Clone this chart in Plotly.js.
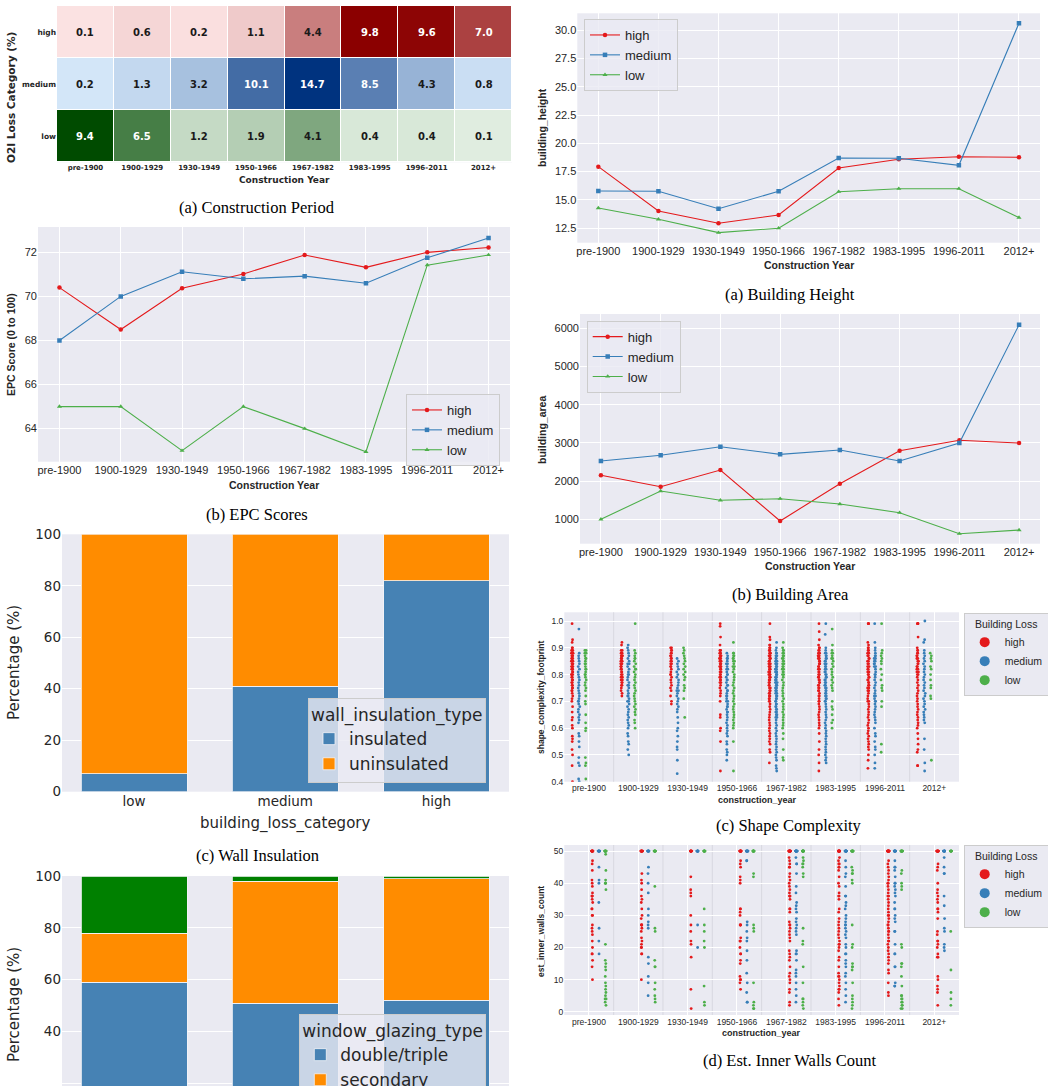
<!DOCTYPE html>
<html><head><meta charset="utf-8">
<script src="https://cdn.plot.ly/plotly-3.0.1.min.js"></script>
<style>html,body{margin:0;padding:0;background:#fff;} #chart{width:1048px;height:1086px;}</style>
</head><body><div id="chart"></div>
<script>
const W = 1048, H = 1086;
const years = ['pre-1900','1900-1929','1930-1949','1950-1966','1967-1982','1983-1995','1996-2011','2012+'];
const lossLevels = ['high','medium','low'];
const heatRowOrder = ['low','medium','high'];

// (a) Construction period heatmap (%)
const heatHigh   = [0.1, 0.6, 0.2, 1.1, 4.4, 9.8, 9.6, 7.0];
const heatMedium = [0.2, 1.3, 3.2, 10.1, 14.7, 8.5, 4.3, 0.8];
const heatLow    = [9.4, 6.5, 1.2, 1.9, 4.1, 0.4, 0.4, 0.1];

// (b) EPC scores
const epcHigh   = [70.4, 68.5, 70.37, 71.02, 71.88, 71.32, 72.0, 72.22];
const epcMedium = [68.0, 70.0, 71.12, 70.8, 70.92, 70.6, 71.75, 72.65];
const epcLow    = [65.0, 65.0, 63.0, 65.0, 64.0, 62.95, 71.42, 71.88];

// Building height
const heightHigh   = [17.93, 14.0, 12.92, 13.65, 17.81, 18.58, 18.81, 18.76];
const heightMedium = [15.78, 15.75, 14.21, 15.75, 18.70, 18.67, 18.05, 30.62];
const heightLow    = [14.27, 13.27, 12.09, 12.48, 15.71, 15.98, 15.98, 13.42];

// Building area
const areaHigh   = [2152, 1853, 2290, 955, 1932, 2796, 3068, 2997];
const areaMedium = [2526, 2675, 2900, 2700, 2814, 2526, 2997, 6094];
const areaLow    = [1000, 1740, 1497, 1539, 1400, 1173, 623, 719];

// Wall insulation / window glazing (%)
const barCats = ['low','medium','high'];
const wallInsulated   = [7, 41, 82];
const wallUninsulated = [93, 59, 18];
const glazeDouble    = [59, 51, 52];
const glazeSecondary = [19, 47, 47];
const glazeSingle    = [22, 2, 1];

// Shape complexity footprint (per construction period)
const scHigh = [
 [0.99,0.93,0.92,0.90,0.90,0.89,0.89,0.89,0.88,0.88,0.88,0.87,0.87,0.87,0.86,0.86,0.86,0.85,0.85,0.85,0.84,0.84,0.84,0.83,0.83,0.83,0.82,0.82,0.82,0.81,0.81,0.80,0.80,0.80,0.79,0.79,0.78,0.78,0.77,0.77,0.76,0.76,0.75,0.75,0.74,0.74,0.73,0.72,0.71,0.70,0.68,0.66,0.64,0.63,0.61,0.60,0.57,0.56,0.55,0.52,0.50,0.46,0.40],
 [0.92,0.91,0.89,0.89,0.88,0.88,0.88,0.87,0.87,0.87,0.86,0.86,0.86,0.85,0.85,0.85,0.84,0.84,0.84,0.83,0.83,0.83,0.82,0.82,0.81,0.81,0.80,0.80,0.79,0.79,0.78,0.78,0.77,0.77,0.76,0.76,0.75,0.74,0.73,0.72],
 [0.90,0.90,0.89,0.89,0.88,0.88,0.87,0.87,0.86,0.86,0.85,0.85,0.84,0.84,0.83,0.83,0.82,0.81,0.80,0.80,0.79,0.78,0.77,0.76,0.75,0.74,0.72,0.70,0.69],
 [0.99,0.98,0.94,0.91,0.89,0.89,0.89,0.88,0.88,0.88,0.87,0.87,0.87,0.86,0.86,0.86,0.85,0.85,0.85,0.84,0.84,0.84,0.83,0.83,0.83,0.82,0.82,0.81,0.81,0.80,0.80,0.79,0.79,0.78,0.78,0.77,0.77,0.76,0.75,0.74,0.73,0.72,0.70,0.65,0.64,0.60,0.59,0.55,0.44],
 [0.99,0.94,0.93,0.91,0.91,0.90,0.90,0.89,0.89,0.89,0.88,0.88,0.88,0.87,0.87,0.87,0.86,0.86,0.86,0.85,0.85,0.85,0.84,0.84,0.84,0.83,0.83,0.83,0.82,0.82,0.82,0.81,0.81,0.81,0.80,0.80,0.80,0.79,0.79,0.79,0.78,0.78,0.78,0.77,0.77,0.76,0.76,0.75,0.75,0.74,0.74,0.73,0.73,0.72,0.72,0.71,0.71,0.70,0.70,0.69,0.68,0.67,0.66,0.65,0.64,0.63,0.62,0.61,0.60,0.59,0.58,0.57,0.56,0.55,0.54,0.52,0.51,0.47],
 [0.99,0.96,0.93,0.91,0.90,0.90,0.89,0.89,0.88,0.88,0.88,0.87,0.87,0.87,0.86,0.86,0.86,0.85,0.85,0.84,0.84,0.84,0.83,0.83,0.82,0.82,0.81,0.81,0.80,0.80,0.79,0.79,0.78,0.78,0.77,0.77,0.76,0.76,0.75,0.75,0.74,0.74,0.73,0.72,0.72,0.71,0.70,0.70,0.69,0.68,0.67,0.66,0.65,0.64,0.63,0.62,0.61,0.60,0.58,0.55,0.52,0.50,0.47,0.44],
 [0.99,0.99,0.99,0.92,0.91,0.90,0.90,0.89,0.89,0.88,0.88,0.88,0.87,0.87,0.86,0.86,0.85,0.85,0.84,0.84,0.83,0.83,0.82,0.82,0.81,0.81,0.80,0.80,0.79,0.79,0.78,0.78,0.77,0.77,0.76,0.76,0.75,0.75,0.74,0.74,0.73,0.72,0.71,0.70,0.70,0.69,0.68,0.67,0.66,0.65,0.64,0.63,0.62,0.61,0.60,0.59,0.58,0.57,0.56,0.55,0.54,0.53,0.52,0.50,0.48,0.45],
 [0.99,0.99,0.99,0.99,0.94,0.90,0.89,0.89,0.88,0.88,0.87,0.87,0.86,0.86,0.85,0.85,0.84,0.84,0.83,0.83,0.82,0.82,0.81,0.81,0.80,0.80,0.79,0.78,0.77,0.76,0.75,0.74,0.73,0.72,0.71,0.70,0.69,0.68,0.67,0.66,0.65,0.64,0.63,0.62,0.61,0.60,0.58,0.56,0.54,0.52,0.51,0.46,0.46]
];
const scMedium = [
 [0.97,0.88,0.87,0.86,0.85,0.84,0.83,0.82,0.81,0.80,0.79,0.78,0.77,0.76,0.75,0.74,0.73,0.72,0.71,0.70,0.70,0.69,0.68,0.67,0.66,0.65,0.64,0.63,0.62,0.58,0.57,0.55,0.53,0.49,0.47,0.46,0.41,0.40],
 [0.91,0.90,0.89,0.88,0.87,0.86,0.85,0.84,0.84,0.83,0.82,0.81,0.80,0.80,0.79,0.78,0.77,0.76,0.76,0.75,0.74,0.73,0.72,0.72,0.71,0.70,0.70,0.69,0.68,0.67,0.66,0.65,0.64,0.63,0.62,0.61,0.60,0.58,0.57,0.55,0.54,0.52,0.50],
 [0.86,0.85,0.84,0.83,0.82,0.81,0.80,0.79,0.78,0.77,0.76,0.75,0.74,0.74,0.73,0.72,0.71,0.70,0.69,0.68,0.67,0.66,0.64,0.62,0.60,0.59,0.57,0.55,0.53,0.52,0.48,0.43],
 [0.88,0.87,0.86,0.86,0.85,0.84,0.84,0.83,0.82,0.82,0.81,0.80,0.80,0.79,0.78,0.78,0.77,0.76,0.76,0.75,0.74,0.74,0.73,0.72,0.72,0.71,0.70,0.70,0.69,0.68,0.68,0.67,0.66,0.66,0.65,0.64,0.63,0.62,0.61,0.60,0.59,0.58,0.57,0.55,0.54,0.52,0.51,0.50,0.48],
 [0.92,0.90,0.89,0.88,0.88,0.87,0.87,0.86,0.86,0.85,0.85,0.85,0.84,0.84,0.84,0.83,0.83,0.83,0.82,0.82,0.82,0.81,0.81,0.81,0.80,0.80,0.80,0.79,0.79,0.79,0.78,0.78,0.78,0.77,0.77,0.77,0.76,0.76,0.76,0.75,0.75,0.75,0.74,0.74,0.74,0.73,0.73,0.72,0.72,0.71,0.71,0.70,0.70,0.69,0.69,0.68,0.68,0.67,0.67,0.66,0.66,0.65,0.65,0.64,0.64,0.63,0.62,0.61,0.60,0.59,0.58,0.57,0.56,0.55,0.54,0.53,0.52,0.51,0.50,0.49,0.48,0.46,0.45,0.44],
 [0.99,0.95,0.90,0.89,0.88,0.88,0.87,0.87,0.86,0.86,0.85,0.85,0.84,0.84,0.83,0.83,0.82,0.82,0.81,0.81,0.80,0.80,0.79,0.79,0.78,0.78,0.77,0.77,0.76,0.76,0.75,0.75,0.74,0.74,0.73,0.73,0.72,0.72,0.71,0.71,0.70,0.70,0.69,0.68,0.67,0.66,0.65,0.64,0.63,0.62,0.61,0.60,0.59,0.58,0.57,0.56,0.55,0.54,0.53,0.52,0.51,0.50,0.49,0.48,0.47],
 [0.99,0.92,0.90,0.89,0.88,0.87,0.87,0.86,0.86,0.85,0.85,0.84,0.84,0.83,0.83,0.82,0.81,0.80,0.80,0.79,0.78,0.77,0.76,0.75,0.74,0.73,0.72,0.72,0.71,0.70,0.70,0.69,0.68,0.67,0.66,0.65,0.64,0.63,0.62,0.60,0.58,0.57,0.55,0.53,0.52,0.50,0.47,0.45],
 [1.00,0.93,0.92,0.89,0.88,0.87,0.86,0.85,0.84,0.83,0.82,0.81,0.80,0.79,0.78,0.77,0.76,0.75,0.74,0.73,0.72,0.71,0.70,0.69,0.68,0.67,0.66,0.65,0.64,0.63,0.62,0.56,0.52,0.47,0.44]
];
const scLow = [
 [0.89,0.89,0.88,0.88,0.87,0.86,0.86,0.85,0.84,0.84,0.83,0.82,0.82,0.81,0.80,0.80,0.79,0.78,0.77,0.76,0.75,0.74,0.72,0.70,0.69,0.65,0.62,0.60,0.59,0.49,0.47,0.46,0.41],
 [0.99,0.89,0.88,0.87,0.86,0.86,0.85,0.84,0.83,0.82,0.82,0.81,0.80,0.79,0.78,0.77,0.76,0.75,0.74,0.73,0.72,0.71,0.70,0.69,0.68,0.67,0.66,0.65,0.63,0.62,0.60],
 [0.90,0.89,0.88,0.87,0.86,0.85,0.84,0.83,0.82,0.81,0.80,0.79,0.78,0.76,0.75,0.74,0.71,0.64],
 [0.92,0.88,0.88,0.87,0.87,0.86,0.86,0.85,0.85,0.84,0.83,0.83,0.82,0.81,0.80,0.79,0.78,0.77,0.76,0.75,0.74,0.73,0.72,0.71,0.70,0.69,0.68,0.67,0.66,0.65,0.64,0.63,0.62,0.61,0.60,0.55,0.44],
 [0.92,0.90,0.89,0.89,0.88,0.88,0.87,0.87,0.86,0.86,0.85,0.85,0.84,0.84,0.83,0.83,0.82,0.82,0.81,0.81,0.80,0.80,0.79,0.78,0.77,0.76,0.75,0.74,0.73,0.72,0.71,0.70,0.69,0.68,0.67,0.66,0.65,0.64,0.63,0.62,0.61,0.60,0.58,0.56,0.52,0.49,0.48],
 [0.97,0.91,0.89,0.88,0.88,0.87,0.86,0.86,0.85,0.84,0.83,0.82,0.81,0.80,0.79,0.78,0.77,0.76,0.75,0.74,0.70,0.68,0.67,0.65,0.63,0.62,0.60],
 [0.99,0.89,0.88,0.87,0.86,0.85,0.84,0.82,0.80,0.78,0.76,0.75,0.74,0.70,0.68,0.54,0.51],
 [0.88,0.87,0.86,0.85,0.83,0.82,0.80,0.78,0.76,0.75,0.72,0.71,0.48]
];

// Estimated inner walls count (per construction period)
const iwHigh = [
 [50,50,50,50,50,50,50,50,50,50,50,50,47,46,44,41,40,39,37,36,36,36,35,34,32,32,30,30,27,26,25,24,22,20,18,18,16,14,10],
 [50,50,50,50,50,50,50,50,50,50,50,50,43,41,40,38,36,35,34,32,30,29,27,27,27,26,25,23,22,21,20,20,18,18,10],
 [50,50,50,50,50,50,50,50,50,50,42,38,37,36,30,27,25,22,21,17,7,1],
 [50,50,50,50,50,50,50,50,50,50,50,50,50,50,47,46,45,42,41,40,32,32,31,30,27,27,27,23,22,22,20,18,18,16,15,11,10,10,9,7],
 [50,50,50,50,50,50,50,50,50,50,50,50,50,50,50,50,48,47,46,45,45,43,42,41,40,39,38,37,36,36,36,35,32,32,31,28,27,27,26,25,24,23,22,19,18,17,16,14,12,11,10,9,7,6,3,2],
 [50,50,50,50,50,50,50,50,50,50,50,50,50,50,50,50,48,47,46,46,45,45,44,42,40,39,37,36,36,35,32,31,29,28,27,26,25,24,23,22,21,21,20,19,17,16,14,12,11,11,10,9,8,7,7,6,4,2],
 [50,50,50,50,50,50,50,50,50,50,50,50,50,50,50,50,47,46,45,44,43,42,41,40,40,39,38,37,36,36,35,34,33,32,31,30,30,29,28,27,27,26,25,25,24,23,22,22,21,20,19,18,17,16,15,13,12,9,6,5],
 [50,50,50,50,50,50,50,50,50,50,50,50,46,45,44,40,38,37,36,35,34,32,32,31,29,25,24,22,22,21,20,18,17,17,11,10,8,7,6,2]
];
const iwMedium = [
 [50,50,50,50,50,50,50,50,50,50,45,41,40,34,26,22,18],
 [50,50,50,50,50,50,50,50,50,50,45,43,40,37,32,30,28,27,26,17,15,11,9,5],
 [50,50,50,50,50,50,50,50,50,50,27,20],
 [50,50,50,50,50,50,50,50,50,50,50,50,47,47,28,27,25,23,22,19,16,12,9,6,3,3],
 [50,50,50,50,50,50,50,50,50,50,50,50,50,50,48,46,46,43,39,37,34,33,32,31,29,28,27,26,25,24,19,18,18,16,13,12,11,9,7,5,3],
 [50,50,50,50,50,50,50,50,50,50,50,50,50,50,47,45,43,42,39,36,36,34,33,32,30,29,28,27,27,26,25,24,23,21,20,18,18,16,15,14,12,11,9,7,5,3],
 [50,50,50,50,50,50,50,50,50,50,50,50,47,45,45,44,42,40,40,39,38,37,36,34,32,32,30,29,28,25,25,21,18,18,14,14,9,8,8],
 [50,50,50,50,50,50,50,50,50,50,48,45,43,43,36,33,29,26,25,21,20,19]
];
const iwLow = [
 [50,50,50,50,50,50,50,50,50,50,49,44,41,40,40,40,38,21,16,15,14,13,11,9,8,7,6,5,4,4,3,2],
 [50,50,50,50,50,50,50,50,50,50,39,26,25,16,14,14,9,7,5,4,3],
 [50,50,50,50,50,50,50,50,50,50,32,27,25,22,20,8,3,2],
 [50,50,50,50,50,50,50,50,50,50,50,50,43,42,27,26,25,9,3,2,1,1],
 [50,50,50,50,50,50,50,50,50,50,50,50,50,50,48,47,46,46,45,43,42,26,22,21,14,9,4,4,3,2,1],
 [50,50,50,50,50,50,50,50,50,50,50,50,45,44,43,43,41,40,27,21,20,15,14,14,13,9,5,4,3,2,1],
 [50,50,50,50,50,50,50,50,50,50,50,50,44,43,40,39,38,21,20,15,15,14,11,8,5,5,4,4,3,3,2,2,1,1],
 [50,50,50,50,50,50,50,50,25,13,6,4,2]
];

// ---------- styling ----------
const COL = {high:'#e41a1c', medium:'#377eb8', low:'#4daf4a'};
const SYM = {high:'circle', medium:'square', low:'triangle-up'};
const TXT = '#262626';
const SANS = 'Liberation Sans, Arial, sans-serif';
const DEJA = 'DejaVu Sans, sans-serif';
const SERIF = 'Liberation Serif, Times New Roman, serif';
const px = x => x / W;
const py = y => 1 - y / H;

const traces = [];

// heatmap rows: each row its own colour scale; other rows left empty (null)
const heatRows = [['high', heatHigh, '#fce4e4', '#8b0000'], ['medium', heatMedium, '#d6e8fa', '#00337f'], ['low', heatLow, '#e2efe2', '#004b00']];
heatRows.forEach(([lvl, vals, c0, c1]) => {
  const z = heatRowOrder.map(r => r === lvl ? vals.slice() : vals.map(() => null));
  traces.push({type:'heatmap', x:years, y:heatRowOrder, z:z, colorscale:[[0,c0],[1,c1]], zmin:0, zmax:Math.max(...vals),
    showscale:false, xgap:1, ygap:1, xaxis:'x', yaxis:'y', hoverinfo:'skip'});
});

function lineTrace(vals, lvl, xa, ya, leg) {
  return {type:'scatter', mode:'lines+markers', x:years, y:vals, name:lvl,
    line:{color:COL[lvl], width:1.1}, marker:{color:COL[lvl], symbol:SYM[lvl], size:4.5},
    xaxis:xa, yaxis:ya, legend:leg, hoverinfo:'skip'};
}
traces.push(lineTrace(epcHigh,'high','x2','y2','legend'));
traces.push(lineTrace(epcMedium,'medium','x2','y2','legend'));
traces.push(lineTrace(epcLow,'low','x2','y2','legend'));
traces.push(lineTrace(heightHigh,'high','x5','y5','legend2'));
traces.push(lineTrace(heightMedium,'medium','x5','y5','legend2'));
traces.push(lineTrace(heightLow,'low','x5','y5','legend2'));
traces.push(lineTrace(areaHigh,'high','x6','y6','legend3'));
traces.push(lineTrace(areaMedium,'medium','x6','y6','legend3'));
traces.push(lineTrace(areaLow,'low','x6','y6','legend3'));

function barTrace(vals, name, color, xa, ya, leg) {
  return {type:'bar', x:barCats, y:vals, name:name, width:0.7,
    marker:{color:color, line:{color:'#f4f4f8', width:0.8}}, xaxis:xa, yaxis:ya, legend:leg, hoverinfo:'skip'};
}
traces.push(barTrace(wallInsulated,'insulated','#4682b4','x3','y3','legend4'));
traces.push(barTrace(wallUninsulated,'uninsulated','#ff8c00','x3','y3','legend4'));
traces.push(barTrace(glazeDouble,'double/triple','#4682b4','x4','y4','legend5'));
traces.push(barTrace(glazeSecondary,'secondary','#ff8c00','x4','y4','legend5'));
traces.push(barTrace(glazeSingle,'single','#008000','x4','y4','legend5'));

function stripTrace(groups, lvl, xa, ya) {
  const xs = [], ys = [];
  groups.forEach((arr, i) => arr.forEach(v => { xs.push(years[i]); ys.push(v); }));
  return {type:'box', x:xs, y:ys, name:lvl, boxpoints:'all', jitter:0.4, pointpos:0,
    fillcolor:'rgba(0,0,0,0)', line:{color:'rgba(0,0,0,0)', width:0}, whiskerwidth:0,
    marker:{color:COL[lvl], size:2.8, line:{width:0}}, showlegend:false, xaxis:xa, yaxis:ya, hoverinfo:'skip'};
}
traces.push(stripTrace(scHigh,'high','x7','y7'));
traces.push(stripTrace(scMedium,'medium','x7','y7'));
traces.push(stripTrace(scLow,'low','x7','y7'));
traces.push(stripTrace(iwHigh,'high','x8','y8'));
traces.push(stripTrace(iwMedium,'medium','x8','y8'));
traces.push(stripTrace(iwLow,'low','x8','y8'));
// legend entries for the strip plots
[['x7','y7','legend6'],['x8','y8','legend7']].forEach(([xa,ya,leg]) => {
  lossLevels.forEach(lvl => traces.push({type:'scatter', mode:'markers', x:[null], y:[null], name:lvl,
    marker:{color:COL[lvl], size:10}, xaxis:xa, yaxis:ya, legend:leg, hoverinfo:'skip'}));
});

// ---------- axes ----------
function catX(domain, anchor, range, font, grid) {
  return {domain:domain, anchor:anchor, type:'category', categoryorder:'array', range:range,
    showgrid:grid, gridcolor:'#ffffff', gridwidth:1, zeroline:false, ticks:'', showline:false,
    tickfont:font, fixedrange:true};
}
function numY(domain, anchor, range, font, extra) {
  return Object.assign({domain:domain, anchor:anchor, range:range, showgrid:true, gridcolor:'#ffffff', gridwidth:1,
    zeroline:false, ticks:'', showline:false, tickfont:font, fixedrange:true}, extra || {});
}
const fLine = {family:SANS, size:11, color:TXT};
const fStrip = {family:SANS, size:8.5, color:TXT};
const fBar = {family:DEJA, size:13.5, color:TXT};

const layout = {
  width:W, height:H, margin:{l:0, r:0, t:0, b:0, autoexpand:false},
  paper_bgcolor:'#ffffff', plot_bgcolor:'#eaeaf2', hovermode:false,
  barmode:'stack', boxmode:'group', boxgap:0.19, boxgroupgap:0.3,
  xaxis: Object.assign(catX([px(57), px(512)], 'y', [-0.5, 7.5], {family:DEJA, size:7, color:TXT, weight:'bold'}, false), {categoryarray:years}),
  yaxis: {domain:[py(162.3), py(6)], anchor:'x', type:'category', categoryorder:'array', categoryarray:heatRowOrder,
    range:[-0.5, 2.5], showgrid:false, zeroline:false, ticks:'', tickfont:{family:DEJA, size:7.5, color:TXT, weight:'bold'}, fixedrange:true},
  xaxis2: Object.assign(catX([px(38), px(510)], 'y2', [-0.35, 7.35], fLine, true), {categoryarray:years}),
  yaxis2: numY([py(461.7), py(227)], 'x2', [62.5, 73.15], fLine, {tickvals:[64,66,68,70,72]}),
  xaxis3: Object.assign(catX([px(62), px(509)], 'y3', [-0.477, 2.48], fBar, false), {categoryarray:barCats}),
  yaxis3: numY([py(791.7), py(534.3)], 'x3', [0, 100], fBar, {tickvals:[0,20,40,60,80,100]}),
  xaxis4: Object.assign(catX([px(62), px(509)], 'y4', [-0.477, 2.48], fBar, false), {categoryarray:barCats, showticklabels:false}),
  yaxis4: numY([0, py(876)], 'x4', [19.0, 100], fBar, {tickvals:[20,40,60,80,100]}),
  xaxis5: Object.assign(catX([px(577.3), px(1040)], 'y5', [-0.35, 7.35], fLine, true), {categoryarray:years}),
  yaxis5: numY([py(242.7), py(13.3)], 'x5', [11.2, 31.5], fLine, {tickvals:[12.5,15,17.5,20,22.5,25,27.5,30], tickformat:'.1f'}),
  xaxis6: Object.assign(catX([px(580), px(1040)], 'y6', [-0.35, 7.35], fLine, true), {categoryarray:years}),
  yaxis6: numY([py(543.7), py(314)], 'x6', [361, 6374], fLine, {tickvals:[1000,2000,3000,4000,5000,6000]}),
  xaxis7: Object.assign(catX([px(564.3), px(959)], 'y7', [-0.5, 7.5], fStrip, true), {categoryarray:years}),
  yaxis7: numY([py(781.7), py(612.3)], 'x7', [0.4, 1.0325], fStrip, {tickvals:[0.4,0.5,0.6,0.7,0.8,0.9,1.0], tickformat:'.1f'}),
  xaxis8: Object.assign(catX([px(564.3), px(959)], 'y8', [-0.5, 7.5], fStrip, true), {categoryarray:years}),
  yaxis8: numY([py(1015), py(845)], 'x8', [-1.0, 51.9], fStrip, {tickvals:[0,10,20,30,40,50]}),
};

// legends
const legBase = {xanchor:'left', yanchor:'top', bgcolor:'rgba(234,234,242,0.8)', bordercolor:'#cccccc', borderwidth:1,
  traceorder:'normal', tracegroupgap:0, itemclick:false, itemdoubleclick:false};
layout.legend  = Object.assign({}, legBase, {x:px(406), y:py(394), font:{family:SANS, size:13, color:TXT}});
layout.legend2 = Object.assign({}, legBase, {x:px(584), y:py(19), font:{family:SANS, size:13, color:TXT}});
layout.legend3 = Object.assign({}, legBase, {x:px(586.7), y:py(320.7), font:{family:SANS, size:13, color:TXT}});
layout.legend4 = Object.assign({}, legBase, {x:px(308), y:py(698), font:{family:DEJA, size:17, color:TXT},
  title:{text:'wall_insulation_type', font:{family:DEJA, size:17, color:TXT}}});
layout.legend5 = Object.assign({}, legBase, {x:px(299.3), y:py(1014), font:{family:DEJA, size:17, color:TXT},
  title:{text:'window_glazing_type', font:{family:DEJA, size:17, color:TXT}}});
layout.legend6 = Object.assign({}, legBase, {x:px(963.7), y:py(613), bgcolor:'#eaeaf2', font:{family:SANS, size:10.5, color:TXT},
  title:{text:'Building Loss', side:'top center', font:{family:SANS, size:10.5, color:TXT}}});
layout.legend7 = Object.assign({}, legBase, {x:px(963.7), y:py(845), bgcolor:'#eaeaf2', font:{family:SANS, size:10.5, color:TXT},
  title:{text:'Building Loss', side:'top center', font:{family:SANS, size:10.5, color:TXT}}});

// shapes: white backing for the heatmap gaps, group separators for strip plots
const shapes = [{type:'rect', xref:'x domain', yref:'y domain', x0:0, x1:1, y0:0, y1:1, fillcolor:'#ffffff', line:{width:0}, layer:'below'}];
['7','8'].forEach(n => {
  for (let i = 0; i < years.length - 1; i++) {
    shapes.push({type:'line', xref:'x'+n, yref:'y'+n+' domain', x0:i+0.5, x1:i+0.5, y0:0, y1:1,
      line:{color:'#d8d8e0', width:1}, layer:'below'});
  }
});
layout.shapes = shapes;

// annotations
const anns = [];
function ann(text, x, y, size, family, opt) {
  anns.push(Object.assign({text:text, xref:'paper', yref:'paper', x:px(x), y:py(y), xanchor:'center', yanchor:'middle',
    showarrow:false, font:{family:family, size:size, color:TXT}}, opt || {}));
}
function annB(text, x, y, size, family, opt) {
  ann('<b>' + text + '</b>', x, y, size, family, opt);
}
// heatmap cell labels
heatRows.forEach(([lvl, vals]) => {
  const mx = Math.max(...vals);
  vals.forEach((v, i) => anns.push({text:'<b>' + v.toFixed(1) + '</b>', xref:'x', yref:'y', x:years[i], y:lvl, showarrow:false,
    font:{family:DEJA, size:10, color:(v / mx > 0.55 ? '#ffffff' : '#1a1a1a')}}));
});
// axis titles
annB('Construction Year', 284, 180, 9, DEJA);
annB('O2I Loss Category (%)', 11, 98, 10.5, DEJA, {textangle:-90});
annB('Construction Year', 274, 485, 10.5, SANS);
annB('EPC Score (0 to 100)', 11, 345, 10.5, SANS, {textangle:-90});
ann('building_loss_category', 285, 823.5, 15, DEJA);
ann('Percentage (%)', 14, 663, 15, DEJA, {textangle:-90});
ann('Percentage (%)', 14, 1005, 15, DEJA, {textangle:-90});
annB('Construction Year', 809, 265, 10.5, SANS);
annB('building_height', 542, 128, 10.5, SANS, {textangle:-90});
annB('Construction Year', 810, 566, 10.5, SANS);
annB('building_area', 542, 430, 10.5, SANS, {textangle:-90});
annB('construction_year', 757, 800, 9, SANS);
annB('shape_complexity_footprint', 541, 697, 8.5, SANS, {textangle:-90});
annB('construction_year', 761, 1033, 9, SANS);
annB('est_inner_walls_count', 541, 932, 8.5, SANS, {textangle:-90});
// captions
const capFont = {family:SERIF, size:16.5, color:'#000000'};
ann('(a) Construction Period', 257, 208, 16.5, SERIF, {font:capFont});
ann('(b) EPC Scores', 257, 514, 16.5, SERIF, {font:capFont});
ann('(c) Wall Insulation', 257, 855, 16.5, SERIF, {font:capFont});
ann('(a) Building Height', 790, 294, 16.5, SERIF, {font:capFont});
ann('(b) Building Area', 790, 594, 16.5, SERIF, {font:capFont});
ann('(c) Shape Complexity', 789, 826, 16.5, SERIF, {font:capFont});
ann('(d) Est. Inner Walls Count', 789, 1060, 16.5, SERIF, {font:capFont});
layout.annotations = anns;

Plotly.newPlot('chart', traces, layout, {staticPlot:true, displayModeBar:false});
</script>
</body></html>
